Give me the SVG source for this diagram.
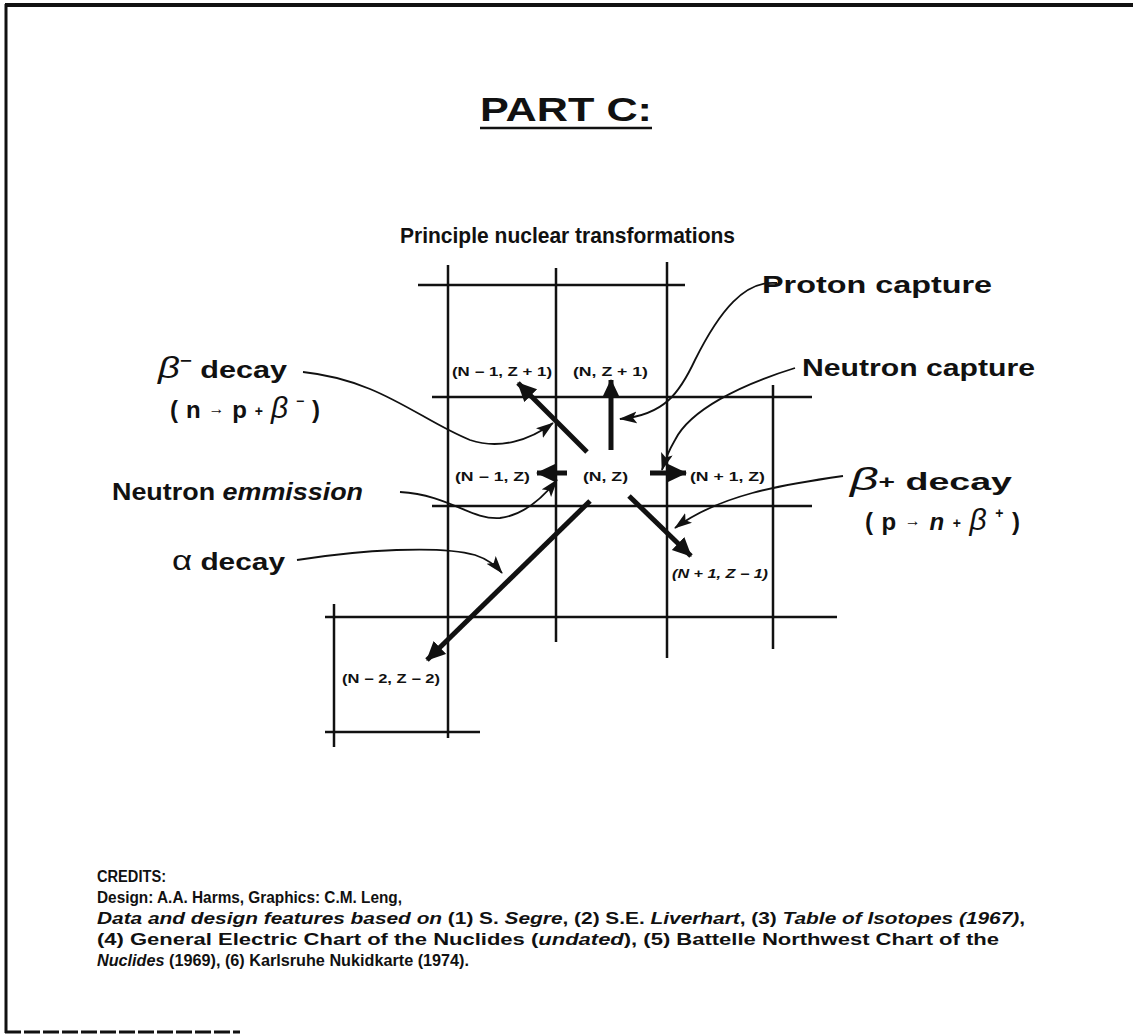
<svg xmlns="http://www.w3.org/2000/svg" width="1133" height="1036" viewBox="0 0 1133 1036">
<style>
text{font-family:"Liberation Sans",Arial,sans-serif;font-weight:bold;fill:#111}
.grid{stroke:#111;stroke-width:2.5;fill:none}
.thick{stroke:#111;stroke-width:5;fill:none}
.thin{stroke:#111;stroke-width:1.8;fill:none}
.lbl{font-size:24px}
.cell{font-size:12px}
.cred{font-size:16px}
</style>
<defs>
<marker id="big" markerUnits="userSpaceOnUse" markerWidth="22" markerHeight="22" refX="18" refY="9" orient="auto"><path d="M0,0 L19,9 L0,18 Z" fill="#111"/></marker>
<marker id="small" markerUnits="userSpaceOnUse" markerWidth="20" markerHeight="14" refX="17" refY="6" orient="auto"><path d="M0,0 L18,6 L0,12 L4,6 Z" fill="#111"/></marker>
</defs>
<rect width="1133" height="1036" fill="#fff"/>
<g id="border">
<line x1="5" y1="5" x2="1133" y2="5" stroke="#111" stroke-width="4"/>
<line x1="6" y1="4" x2="6" y2="1033" stroke="#111" stroke-width="3"/>
<line x1="5" y1="1032" x2="240" y2="1032" stroke="#111" stroke-width="3" stroke-dasharray="16,3"/>
</g>
<g id="title">
<text x="480" y="121" font-size="34" textLength="172" lengthAdjust="spacingAndGlyphs">PART C:</text>
<line x1="480" y1="128" x2="652" y2="128" stroke="#111" stroke-width="2.5"/>
<text x="400" y="243" font-size="22" textLength="335" lengthAdjust="spacingAndGlyphs">Principle nuclear transformations</text>
</g>
<g id="grid">
<line class="grid" x1="418" y1="285" x2="685" y2="285"/>
<line class="grid" x1="432" y1="397" x2="812" y2="397"/>
<line class="grid" x1="432" y1="506" x2="812" y2="506"/>
<line class="grid" x1="325" y1="617" x2="837" y2="617"/>
<line class="grid" x1="325" y1="732" x2="480" y2="732"/>
<line class="grid" x1="448" y1="265" x2="448" y2="738"/>
<line class="grid" x1="556" y1="268" x2="556" y2="642"/>
<line class="grid" x1="667" y1="262" x2="667" y2="658"/>
<line class="grid" x1="773" y1="385" x2="773" y2="649"/>
<line class="grid" x1="334" y1="604" x2="334" y2="747"/>
</g>
<g id="cells">
<text class="cell" x="452" y="376" textLength="100" lengthAdjust="spacingAndGlyphs">(N − 1, Z + 1)</text>
<text class="cell" x="573" y="376" textLength="75" lengthAdjust="spacingAndGlyphs">(N, Z + 1)</text>
<text class="cell" x="455" y="481" textLength="75" lengthAdjust="spacingAndGlyphs">(N − 1, Z)</text>
<text class="cell" x="583" y="481" textLength="45" lengthAdjust="spacingAndGlyphs">(N, Z)</text>
<text class="cell" x="690" y="481" textLength="75" lengthAdjust="spacingAndGlyphs">(N + 1, Z)</text>
<text class="cell" x="672" y="578" font-style="italic" textLength="96" lengthAdjust="spacingAndGlyphs">(N + 1, Z − 1)</text>
<text class="cell" x="342" y="683" textLength="98" lengthAdjust="spacingAndGlyphs">(N − 2, Z − 2)</text>
</g>
<g id="labels">
<text class="lbl" x="762" y="293" textLength="230" lengthAdjust="spacingAndGlyphs">Proton capture</text>
<text class="lbl" x="802" y="376" textLength="233" lengthAdjust="spacingAndGlyphs">Neutron capture</text>
<text class="lbl" x="158" y="378" textLength="129" lengthAdjust="spacingAndGlyphs"><tspan font-style="italic" font-weight="normal" font-size="30">β</tspan><tspan font-size="16" dy="-12">−</tspan><tspan dy="12"> decay</tspan></text>
<text class="lbl" x="170" y="418" textLength="150" lengthAdjust="spacing">(n<tspan font-size="16" dy="-4">→</tspan><tspan dy="4">p</tspan><tspan font-size="14" dy="-2">+</tspan><tspan dy="2" font-style="italic" font-weight="normal" font-size="30">β</tspan><tspan font-size="14" dy="-12">−</tspan><tspan dy="12">)</tspan></text>
<text class="lbl" x="112" y="500" textLength="251" lengthAdjust="spacingAndGlyphs">Neutron <tspan font-style="italic">emmission</tspan></text>
<text class="lbl" x="172" y="570" textLength="113" lengthAdjust="spacingAndGlyphs"><tspan font-weight="normal" font-size="28">α</tspan> decay</text>
<text class="lbl" x="850" y="490" textLength="162" lengthAdjust="spacingAndGlyphs"><tspan font-style="italic" font-weight="normal" font-size="32">β</tspan><tspan font-size="18" dy="-2">+</tspan><tspan dy="2"> decay</tspan></text>
<text class="lbl" x="865" y="530" textLength="155" lengthAdjust="spacing">(p<tspan font-size="16" dy="-4">→</tspan><tspan dy="4" font-style="italic">n</tspan><tspan font-size="14" dy="-2">+</tspan><tspan dy="2" font-style="italic" font-weight="normal" font-size="30">β</tspan><tspan font-size="14" dy="-12">+</tspan><tspan dy="12">)</tspan></text>
</g>
<g id="connectors">
<line class="thick" x1="587" y1="452" x2="518" y2="383" marker-end="url(#big)"/>
<line class="thick" x1="611" y1="450" x2="611" y2="380" marker-end="url(#big)"/>
<line class="thick" x1="567" y1="473" x2="537" y2="473" marker-end="url(#big)"/>
<line class="thick" x1="650" y1="473" x2="686" y2="473" marker-end="url(#big)"/>
<line class="thick" x1="629" y1="496" x2="691" y2="556" marker-end="url(#big)"/>
<line class="thick" x1="590" y1="501" x2="427" y2="660" marker-end="url(#big)"/>
<path class="thin" d="M777 283 C745 280,720 310,695 360 C680 392,665 415,620 419" marker-end="url(#small)"/>
<path class="thin" d="M795 368 C740 385,690 410,675 440 C668 452,665 460,662 470" marker-end="url(#small)"/>
<path class="thin" d="M303 372 C380 380,420 420,470 440 C500 450,530 440,553 423" marker-end="url(#small)"/>
<path class="thin" d="M400 492 C450 495,470 520,500 518 C525 515,545 495,557 480" marker-end="url(#small)"/>
<path class="thin" d="M297 560 C360 550,440 545,475 555 C490 560,497 567,502 573" marker-end="url(#small)"/>
<path class="thin" d="M843 476 C780 485,720 495,675 528" marker-end="url(#small)"/>
</g>
<g id="credits">
<text class="cred" x="97" y="882" textLength="69" lengthAdjust="spacingAndGlyphs">CREDITS:</text>
<text class="cred" x="97" y="903" textLength="305" lengthAdjust="spacingAndGlyphs">Design:  A.A. Harms, Graphics:  C.M. Leng,</text>
<text class="cred" x="97" y="924" textLength="928" lengthAdjust="spacingAndGlyphs"><tspan font-style="italic">Data and design features based on</tspan> (1) S. <tspan font-style="italic">Segre</tspan>, (2) S.E. <tspan font-style="italic">Liverhart</tspan>, (3) <tspan font-style="italic">Table of Isotopes (1967)</tspan>,</text>
<text class="cred" x="97" y="945" textLength="902" lengthAdjust="spacingAndGlyphs">(4) General Electric Chart of the Nuclides (<tspan font-style="italic">undated</tspan>), (5) Battelle Northwest Chart of the</text>
<text class="cred" x="97" y="966" textLength="372" lengthAdjust="spacingAndGlyphs"><tspan font-style="italic">Nuclides</tspan> (1969), (6) Karlsruhe Nukidkarte (1974).</text>
</g>
</svg>
